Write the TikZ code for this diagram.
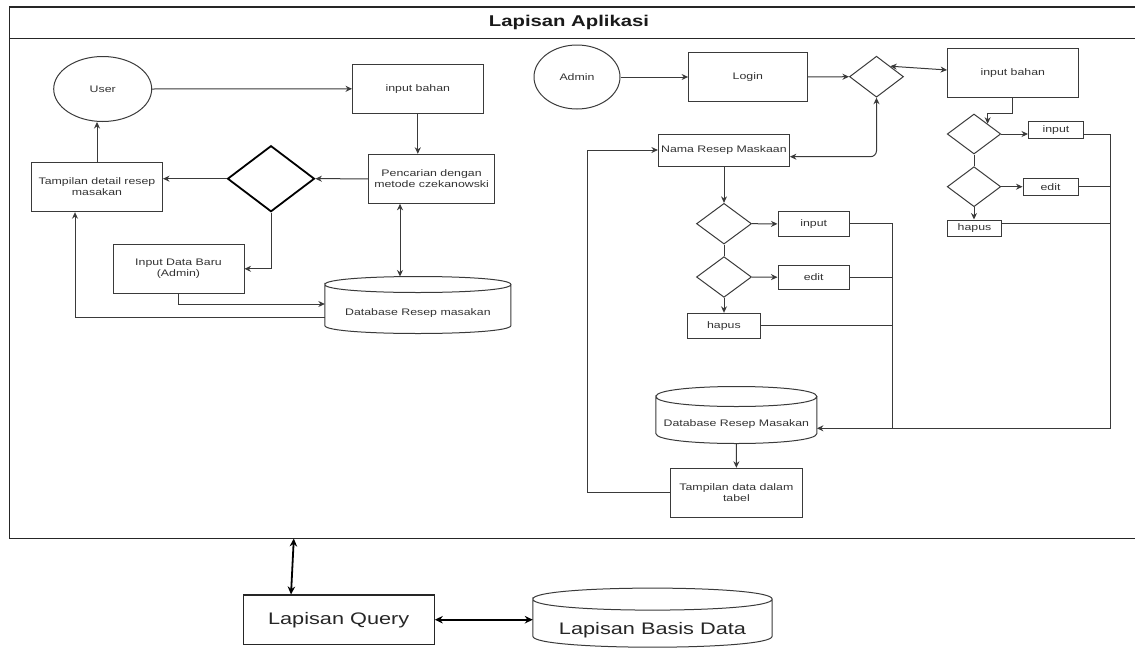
\documentclass[tikz,border=0pt]{standalone}
\usepackage{fontspec}
\setmainfont[FakeStretch=1.3]{Liberation Sans}
\usetikzlibrary{shapes.geometric,arrows.meta}
\definecolor{lc}{HTML}{3A3A3A}
\definecolor{tc}{HTML}{333333}
\newcommand\fsmall{\fontsize{9.5}{10.9}\selectfont}
\newcommand\cylshape[2]{%
 \pgfmathsetmacro\cya{#2/3}%
 \pgfmathsetmacro\cyb{#2*7/3}%
 \draw[ln] ([yshift=-#2pt]#1.north west) .. controls ([yshift=\cya pt]#1.north west) and ([yshift=\cya pt]#1.north east) .. ([yshift=-#2pt]#1.north east)
   .. controls ([yshift=-\cyb pt]#1.north east) and ([yshift=-\cyb pt]#1.north west) .. ([yshift=-#2pt]#1.north west)
   -- ([yshift=#2pt]#1.south west) .. controls ([yshift=-\cya pt]#1.south west) and ([yshift=-\cya pt]#1.south east) .. ([yshift=#2pt]#1.south east)
   -- ([yshift=-#2pt]#1.north east);
}
\begin{document}
\begin{tikzpicture}[x=1pt,y=-1pt,
  ln/.style={draw=lc, line width=1pt},
  box/.style={rectangle, draw=lc, line width=1pt, inner sep=1pt, align=center, font=\fsmall, text=tc},
  ell/.style={ellipse, draw=lc, line width=1pt, inner sep=0pt, font=\fsmall, text=tc},
  dia/.style={diamond, draw=lc, line width=1pt, inner sep=0pt},
  cyl/.style={rectangle, draw=none, inner sep=0pt},
  txt/.style={font=\fsmall, text=tc, inner sep=0pt, align=center},
  arr/.style={draw=lc, line width=1pt, -{Stealth[length=6.5pt,width=6pt]}},
  dbl/.style={draw=lc, line width=1pt, {Stealth[length=6.5pt,width=6pt]}-{Stealth[length=6.5pt,width=6pt]}},
  dblthick/.style={draw=black, line width=1.8pt, {Stealth[length=8pt,width=7.5pt]}-{Stealth[length=8pt,width=7.5pt]}},
  frame/.style={draw=black!85, line width=1.3pt}
]
\useasboundingbox (0,0) rectangle (1135,648);

% frame
\draw[frame] (1135,7) -- (9.5,7) -- (9.5,538.5) -- (1135,538.5);
\draw[frame] (9.5,38.5) -- (1135,38.5);
\node[font=\fontsize{15.6}{18}\selectfont\bfseries, text=black!90] (title) at (569,22.7) {Lapisan Aplikasi};

% ===== left flow =====
\node[ell, minimum width=98pt, minimum height=65pt] (user) at (102.7,89) {User};
\node[box, minimum width=130.5pt, minimum height=49pt] (inbL) at (417.8,88.8) {input bahan};
\node[box, minimum width=126pt, minimum height=49pt] (pencar) at (431.6,178.8) {Pencarian dengan\\metode czekanowski};
\node[dia, draw=black, line width=1.8pt, minimum width=87pt, minimum height=66pt] (dL) at (271,178.7) {};
\node[box, minimum width=131pt, minimum height=49.4pt] (tamp) at (97,187) {Tampilan detail resep\\masakan};
\node[box, minimum width=131pt, minimum height=49pt] (inData) at (178.5,268.8) {Input Data Baru\\(Admin)};
\node[cyl, minimum width=185.7pt, minimum height=56.6pt] (cylL) at (417.9,305) {};
\cylshape{cylL}{8}
\node[txt] (cylLtxt) at ([yshift=-8pt]cylL.center) {Database Resep masakan};

\draw[arr] (user.east) -- (inbL.west);
\draw[arr] (inbL.south) -- (inbL.south |- pencar.north);
\draw[arr] (pencar.west) -- (dL.east);
\draw[arr] (dL.west) -- (dL.west -| tamp.east);
\draw[arr] (tamp.north) -- (tamp.north |- user.south);
\draw[arr] (dL.south) |- (inData.east);
\draw[dbl] ([xshift=-31.6pt]pencar.south) -- ([xshift=-31.6pt]pencar.south |- cylL.north);
\draw[arr] (inData.south) |- ([yshift=1pt]cylL.west);
\draw[arr] ([yshift=-12.3pt]cylL.west) -| ([xshift=-22pt]tamp.south);

% ===== right flow =====
\node[ell, minimum width=86pt, minimum height=64pt] (admin) at (577,77) {Admin};
\node[box, minimum width=118.4pt, minimum height=49.4pt] (login) at (747.8,77) {Login};
\node[dia, minimum width=54pt, minimum height=41pt] (dR1) at (876.5,76.7) {};
\node[box, minimum width=130.5pt, minimum height=49pt] (inbR) at (1012.8,72.8) {input bahan};
\node[box, minimum width=131pt, minimum height=32pt] (nama) at (723.9,150) {Nama Resep Maskaan};

\node[dia, minimum width=55pt, minimum height=40.7pt] (dA1) at (724,223.7) {};
\node[box, minimum width=71.4pt, minimum height=24.3pt] (inA) at (813.7,223.9) {input};
\node[dia, minimum width=55pt, minimum height=40.7pt] (dA2) at (724,277) {};
\node[box, minimum width=71.4pt, minimum height=24.3pt] (edA) at (813.7,277.2) {edit};
\node[box, minimum width=72.2pt, minimum height=25pt] (hpA) at (723.9,325.8) {hapus};

\node[dia, minimum width=53.5pt, minimum height=40pt] (dB1) at (974,134) {};
\node[box, minimum width=55pt, minimum height=16.6pt] (inB) at (1056,130) {input};
\node[dia, minimum width=53.5pt, minimum height=40pt] (dB2) at (974,186.7) {};
\node[box, minimum width=55pt, minimum height=16.7pt] (edB) at (1050.5,186.7) {edit};
\node[box, minimum width=54pt, minimum height=16pt] (hpB) at (974.5,228) {hapus};

\node[cyl, minimum width=160.7pt, minimum height=56.6pt] (cylR) at (736.35,415) {};
\cylshape{cylR}{10}
\node[txt] (cylRtxt) at ([yshift=-9pt]cylR.center) {Database Resep Masakan};
\node[box, minimum width=131.3pt, minimum height=49pt] (tdata) at (736.4,492.8) {Tampilan data dalam\\tabel};

\draw[arr] (admin.east) -- (login.west);
\draw[arr] (login.east) -- (dR1.west);
\draw[dbl] (dR1.north east) -- ([yshift=2.8pt]inbR.west);
\draw[dbl, rounded corners=6pt] (dR1.south) |- ([yshift=-6.7pt]nama.east);
\draw[arr] (tdata.west) -- ([xshift=-83pt]tdata.west) |- (nama.west);
\draw[arr] (nama.south -| dA1.north) -- (dA1.north);
\draw[arr] (dA1.east) -- (inA.west);
\draw[ln] (dA1.south) -- (dA2.north);
\draw[arr] (dA2.east) -- (edA.west);
\draw[arr] (dA2.south) -- (dA2.south |- hpA.north);

\draw[arr] (inbR.south) -- ([yshift=-16pt]inbR.south) -| (dB1.north east);
\draw[arr] (dB1.east) -- (dB1.east -| inB.west);
\draw[ln] (dB1.south) -- (dB2.north);
\draw[arr] (dB2.east) -- (dB2.east -| edB.west);
\draw[arr] (dB2.south) -- (dB2.south |- hpB.north);

% collecting lines
\coordinate (busA) at (892.5,223.9);
\coordinate (busB) at (1110,134);
\coordinate (busJ) at (892.5,428.3);
\coordinate (busC) at (1110,428.3);
\draw[ln] (inA.east) -- (busA) -- (busJ);
\draw[ln] (edA.east) -- (edA.east -| busA);
\draw[ln] (hpA.east) -- (hpA.east -| busA);
\draw[ln] ([yshift=-4pt]inB.east) -- (busB);
\draw[ln] (edB.east) -- (edB.east -| busB);
\draw[ln] ([yshift=4.7pt]hpB.east) -- ([yshift=4.7pt]hpB.east -| busB);
\draw[arr] (busB) -- (busC) -- (busC -| cylR.east);
\draw[arr] (cylR.south) -- (tdata.north);

% ===== bottom layers =====
\node[rectangle, draw=black!85, line width=1.2pt, minimum width=191pt, minimum height=49.3pt, font=\fontsize{16.7}{20}\selectfont, text=black!85] (lq) at (338.7,619.7) {Lapisan Query};
\node[cyl, minimum width=239pt, minimum height=58.7pt] (cylB) at (652.5,617.65) {};
\cylshape{cylB}{11}
\node[font=\fontsize{16.7}{20}\selectfont, text=black!85, inner sep=0pt] (cylBtxt) at ([yshift=-12.3pt]cylB.center) {Lapisan Basis Data};
\coordinate (fb) at (293.8,538.5);
\draw[dblthick] (fb) -- ([xshift=-47.7pt]lq.north);
\draw[dblthick] (lq.east) -- (lq.east -| cylB.west);
\end{tikzpicture}
\end{document}
